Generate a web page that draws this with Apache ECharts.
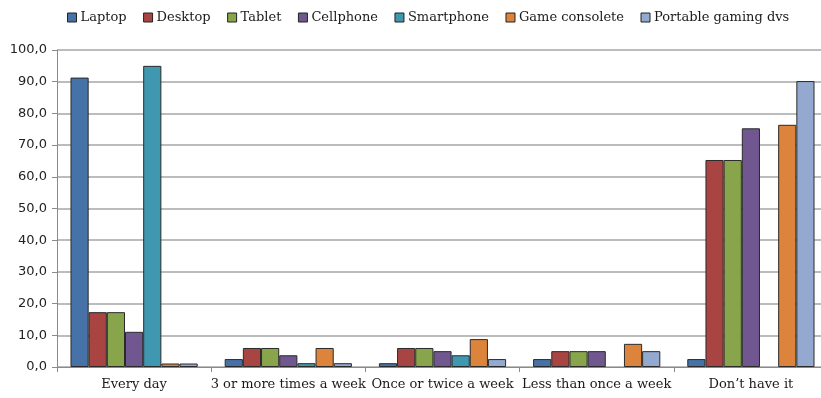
<!DOCTYPE html>
<html>
<head>
<meta charset="utf-8">
<script src="https://cdn.jsdelivr.net/npm/echarts@6/dist/echarts.min.js"></script>
<style>
  html, body { margin: 0; padding: 0; background: #ffffff; overflow: hidden; }
  /* the plot area runs slightly past the right edge of the window */
  #chart { width: 832px; height: 398px; }
</style>
</head>
<body>
<div id="chart"></div>
<script>
// Frequency of device use, percent of respondents
const categories = ['Every day', '3 or more times a week', 'Once or twice a week', 'Less than once a week', 'Don\u2019t have it'];
const seriesNames = ['Laptop', 'Desktop', 'Tablet', 'Cellphone', 'Smartphone', 'Game consolete', 'Portable gaming dvs'];
const laptop     = [91.3, 2.5, 1.2, 2.5, 2.5];
const desktop    = [17.3, 6.0, 6.0, 5.0, 65.3];
const tablet     = [17.3, 6.0, 6.0, 5.0, 65.3];
const cellphone  = [11.1, 3.7, 5.0, 5.0, 75.3];
const smartphone = [95.0, 1.2, 3.7, null, null];
const gameConsole = [1.1, 6.0, 8.8, 7.3, 76.4];
const portable   = [1.1, 1.2, 2.5, 5.0, 90.2];
const yTicks = { min: 0, max: 100, interval: 10 };

const colors = ['#4672A8', '#A84442', '#88A54C', '#71578F', '#3F98AF', '#DC833C', '#93A9D0'];
const values = [laptop, desktop, tablet, cellphone, smartphone, gameConsole, portable];

const serif = '"DejaVu Serif", "Liberation Serif", serif';

const chart = echarts.init(document.getElementById('chart'), null, { renderer: 'canvas' });
chart.setOption({
  animation: false,
  backgroundColor: '#ffffff',
  color: colors,
  legend: {
    top: 6,
    left: 62,
    itemWidth: 9,
    itemHeight: 9,
    itemGap: 16.5,
    icon: 'rect',
    textStyle: { fontFamily: serif, fontSize: 13, color: '#1a1a1a', padding: [0, 0, 0, -1] },
    itemStyle: { borderColor: '#222', borderWidth: 1 },
    data: seriesNames
  },
  grid: { left: 57, top: 50, right: 4, bottom: 31, containLabel: false },
  xAxis: {
    type: 'category',
    data: categories,
    axisLine: { lineStyle: { color: '#8a8a8a', width: 1 } },
    axisTick: { show: true, alignWithLabel: false, interval: 0, length: 5, lineStyle: { color: '#8a8a8a' } },
    axisLabel: { fontFamily: serif, fontSize: 13, color: '#1a1a1a', margin: 11, interval: 0 }
  },
  yAxis: {
    type: 'value',
    min: yTicks.min,
    max: yTicks.max,
    interval: yTicks.interval,
    axisLine: { show: true, lineStyle: { color: '#8a8a8a', width: 1 } },
    axisTick: { show: true, length: 5, inside: false, lineStyle: { color: '#8a8a8a' } },
    axisLabel: {
      fontFamily: '"DejaVu Sans", Verdana, sans-serif',
      fontSize: 13,
      color: '#222',
      margin: 10,
      formatter: v => v.toFixed(1).replace('.', ',')
    },
    splitLine: { lineStyle: { color: '#a6a6a6', width: 1.5 } }
  },
  series: seriesNames.map((name, i) => ({
    name,
    type: 'bar',
    data: values[i],
    barGap: '0%',
    barCategoryGap: '17.5%',
    itemStyle: { color: colors[i], borderColor: '#2a2a2a', borderWidth: 1 }
  }))
});
</script>
</body>
</html>
